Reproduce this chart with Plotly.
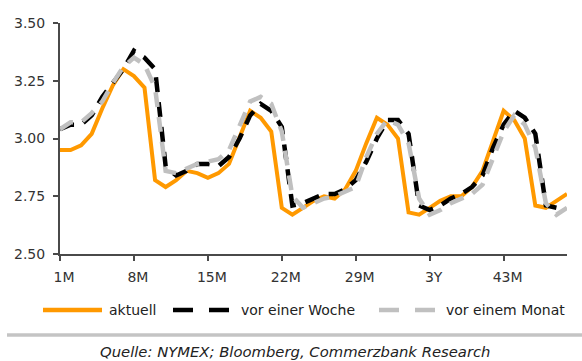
import plotly.graph_objects as go

# Laufzeit in Monaten
months = list(range(1, 50))

# Terminkurve Erdgas (USD/MMBtu)
aktuell = [2.95, 2.95, 2.97, 3.02, 3.13, 3.23, 3.30, 3.27, 3.22, 2.82,
           2.79, 2.82, 2.86, 2.85, 2.83, 2.85, 2.89, 3.01, 3.12, 3.09,
           3.03, 2.70, 2.67, 2.70, 2.73, 2.75, 2.74, 2.78, 2.86, 2.98,
           3.09, 3.06, 3.00, 2.68, 2.67, 2.70, 2.73, 2.75, 2.75, 2.79,
           2.86, 2.99, 3.12, 3.08, 3.00, 2.71, 2.70, 2.73, 2.76]
vor_woche = [3.04, 3.06, 3.06, 3.10, 3.18, 3.24, 3.30, 3.38, 3.35, 3.30,
             2.88, 2.84, 2.86, 2.89, 2.89, 2.88, 2.92, 3.00, 3.10, 3.15,
             3.12, 3.05, 2.71, 2.72, 2.74, 2.76, 2.76, 2.78, 2.82, 2.90,
             3.00, 3.08, 3.08, 3.02, 2.71, 2.69, 2.71, 2.74, 2.76, 2.79,
             2.84, 2.96, 3.06, 3.12, 3.09, 3.02, 2.71, 2.70]
vor_monat = [3.04, 3.07, 3.07, 3.11, 3.16, 3.24, 3.31, 3.35, 3.32, 3.22,
             2.86, 2.85, 2.87, 2.89, 2.90, 2.91, 2.95, 3.06, 3.16, 3.18,
             3.15, 3.03, 2.75, 2.70, 2.72, 2.74, 2.75, 2.77, 2.79, 2.92,
             3.02, 3.08, 3.06, 2.98, 2.74, 2.67, 2.69, 2.72, 2.74, 2.76,
             2.80, 2.92, 3.03, 3.10, 3.06, 2.96, 2.72, 2.67, 2.70]

tick_vals = [1, 8, 15, 22, 29, 36, 43]
tick_text = ["1M", "8M", "15M", "22M", "29M", "3Y", "43M"]
y_ticks = [2.50, 2.75, 3.00, 3.25, 3.50]

ORANGE = "#FF9900"
BLACK = "#000000"
GREY = "#C0C0C0"
DASH = "15px,10px"
FONT = "DejaVu Sans, Liberation Sans, Arial, sans-serif"

series = [
    ("aktuell", aktuell, ORANGE, "solid"),
    ("vor einer Woche", vor_woche, BLACK, DASH),
    ("vor einem Monat", vor_monat, GREY, DASH),
]

fig = go.Figure()
for name, vals, col, dash in series:
    fig.add_trace(go.Scatter(
        x=months[:len(vals)], y=vals, mode="lines", name=name,
        line=dict(color=col, width=4.5 if col != ORANGE else 4, dash=dash),
        showlegend=False,
    ))

W, H = 582, 361
ml, mr, mt, mb = 60, 15, 23, 107
pw, ph = W - ml - mr, H - mt - mb


def px_x(p):
    return (p - ml) / pw


def px_y(p):
    return (H - mb - p) / ph


# Legende unter der Grafik
legend_y = 310
items = [(43, 102, 107, "aktuell"), (173, 229, 239, "vor einer Woche"),
         (379, 435, 444, "vor einem Monat")]
shapes = []
annotations = []
for (x0, x1, xt, label), (_, _, col, dash) in zip(items, series):
    shapes.append(dict(type="line", xref="paper", yref="paper",
                       x0=px_x(x0), x1=px_x(x1), y0=px_y(legend_y), y1=px_y(legend_y),
                       line=dict(color=col, width=4.5,
                                 dash="solid" if dash == "solid" else "20px,16px")))
    annotations.append(dict(text=label, xref="paper", yref="paper",
                            x=px_x(xt), y=px_y(legend_y), xanchor="left", yanchor="middle",
                            showarrow=False, font=dict(size=14, color="#222222")))

# Trennlinie und Quellenangabe
shapes.append(dict(type="line", xref="paper", yref="paper",
                   x0=px_x(7), x1=px_x(582), y0=px_y(335), y1=px_y(335),
                   line=dict(color="#C4C4C4", width=3.5)))
annotations.append(dict(text="<i>Quelle: NYMEX; Bloomberg, Commerzbank Research</i>",
                        xref="paper", yref="paper", x=px_x(295), y=px_y(351),
                        xanchor="center", yanchor="middle", showarrow=False,
                        font=dict(size=14.8, color="#222222")))

axis_common = dict(showgrid=False, zeroline=False, showline=True, linecolor="#4A4A4A",
                   linewidth=2, ticks="outside", ticklen=5, tickwidth=1.5,
                   tickcolor="#4A4A4A", tickfont=dict(size=14, color="#333333"))

fig.update_layout(
    width=W, height=H,
    margin=dict(l=ml, r=mr, t=mt, b=mb),
    paper_bgcolor="white", plot_bgcolor="white",
    font=dict(family=FONT, size=14, color="#333333"),
    shapes=shapes, annotations=annotations,
    xaxis=dict(range=[1, 49], tickvals=tick_vals, ticktext=tick_text,
               ticklabelshift=4, ticklabelstandoff=4, **axis_common),
    yaxis=dict(range=[2.5, 3.5], tickvals=y_ticks, tickformat=".2f",
               ticklabelstandoff=5, **axis_common),
)

fig.write_html("out.html")
